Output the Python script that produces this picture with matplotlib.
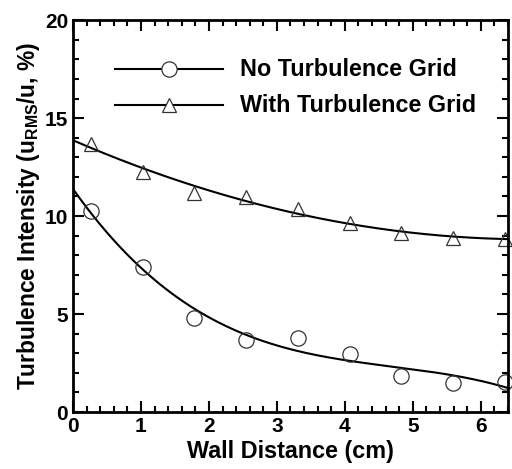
import matplotlib
matplotlib.use('Agg')

import matplotlib.pyplot as plt
import numpy as np
from matplotlib.ticker import MultipleLocator

# data
wall_dist = [0.26, 1.03, 1.78, 2.54, 3.31, 4.07, 4.82, 5.59, 6.35]
no_grid = [10.25, 7.4, 4.8, 3.7, 3.8, 2.95, 1.85, 1.5, 1.55]
with_grid = [13.7, 12.25, 11.2, 10.95, 10.35, 9.64, 9.13, 8.9, 8.85]

labels = ["No Turbulence Grid", "With Turbulence Grid"]

plt.rcParams.update({
    "font.family": "Liberation Sans",
    "font.weight": "bold",
    "mathtext.fontset": "custom",
    "mathtext.rm": "Liberation Sans:bold",
    "mathtext.it": "Liberation Sans:bold",
    "mathtext.default": "rm",
})

fig = plt.figure(figsize=(5.12, 4.69), dpi=100)
ax = fig.add_axes([0.1426, 0.1215, 0.992 - 0.1426, 0.957 - 0.1215])

xs = np.linspace(0, 6.4, 200)

# fitted trend lines
fit_no = np.polyval(np.polyfit(wall_dist, no_grid, 3), xs)
fit_with = np.polyval(np.polyfit(wall_dist, with_grid, 2), xs)

ax.plot(xs, fit_no, color='black', lw=1.5)
ax.plot(xs, fit_with, color='black', lw=1.5)

ax.plot(wall_dist, no_grid, 'o', ms=11, mfc='none', mec='#333333', mew=0.9,
        clip_on=False)
ax.plot(wall_dist, with_grid, '^', ms=10, mfc='none', mec='#333333', mew=0.9,
        clip_on=False)

# legend drawn by hand like the original
for y, mk, ms, txt in [(17.5, 'o', 11, labels[0]), (15.65, '^', 10, labels[1])]:
    ax.plot([0.62, 2.2], [y, y], color='black', lw=1.5)
    ax.plot([1.41], [y], mk, ms=ms, mfc='white', mec='#333333', mew=0.9)
    ax.text(2.46, y, txt, fontsize=16.8, fontweight='bold', va='center')

ax.set_xlim(0, 6.4)
ax.set_ylim(0, 20)
ax.xaxis.set_major_locator(MultipleLocator(1))
ax.xaxis.set_minor_locator(MultipleLocator(0.2))
ax.yaxis.set_major_locator(MultipleLocator(5))
ax.yaxis.set_minor_locator(MultipleLocator(1))

ax.tick_params(which='both', direction='in', top=True, right=True,
               labelsize=15, width=1.5)
ax.tick_params(which='major', length=8)
ax.tick_params(which='minor', length=4)
for s in ax.spines.values():
    s.set_linewidth(2)

ax.set_xlabel("Wall Distance (cm)", fontsize=16.8, fontweight='bold', labelpad=3)
ax.set_ylabel("Turbulence Intensity (u$_{RMS}$/u, %)", fontsize=16.4,
              fontweight='bold', labelpad=2)

fig.savefig("out.png", dpi=100)
